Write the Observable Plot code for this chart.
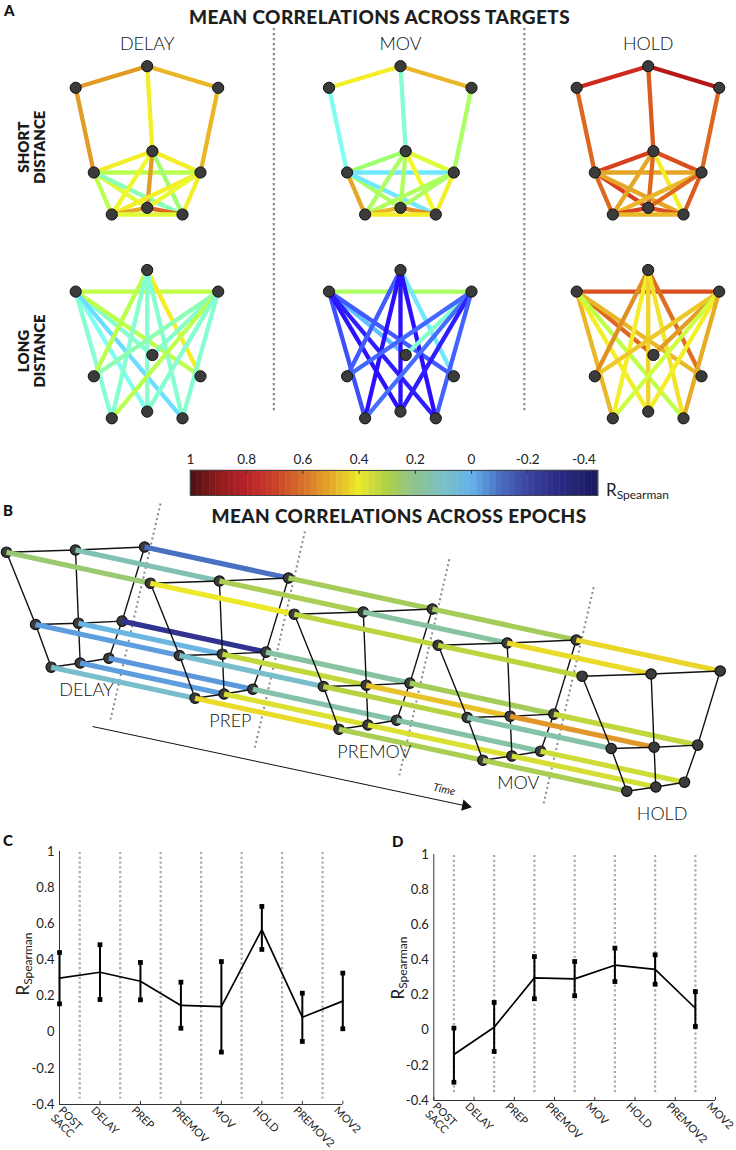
<!DOCTYPE html>
<html><head><meta charset="utf-8">
<script src="https://cdn.jsdelivr.net/npm/d3@7"></script>
<script src="https://cdn.jsdelivr.net/npm/@observablehq/plot@0.6"></script>
<style>
body{margin:0;background:#fff;font-family:Lato,"Open Sans",sans-serif;color:#222;}
#fig{position:relative;width:736px;height:1150px;overflow:hidden;}
#fig svg{overflow:visible;}
.lbl{position:absolute;white-space:nowrap;line-height:1;}
.title{font-weight:900;font-size:19px;letter-spacing:0.4px;color:#1e1e1e;transform:translateX(-50%);}
.letter{font-weight:900;font-size:15px;color:#111;}
.rs{transform:translate(-50%,-50%) rotate(-90deg);}
</style></head>
<body><div id="fig"></div>
<script>
// ---------------- DATA ----------------
// Panel A : 9 targets, correlation of each target pair
const epochsA = ["DELAY", "MOV", "HOLD"];
const distanceLabels = ["SHORT\nDISTANCE", "LONG\nDISTANCE"];
// target indices: 0 top, 1 upper-left, 2 upper-right, 3 centre, 4 mid-left, 5 mid-right, 6 bottom-centre, 7 bottom-left, 8 bottom-right
const targetLayoutX = [0, -71.5, 71, 5.2, -53.4, 53.3, 0, -35.4, 35.3];
const targetLayoutY = [0, 21.6, 21.6, 85, 106.3, 106.3, 141.6, 148.3, 148.3];
const shortPairs = [[0,1],[0,2],[0,3],[1,4],[2,5],[3,4],[3,5],[4,5],[4,7],[4,6],[4,8],[3,7],[3,6],[3,8],[5,7],[5,6],[5,8],[7,6],[6,8],[7,8]];
const longPairs = [[1,2],[1,3],[1,5],[1,7],[1,6],[1,8],[0,4],[0,5],[0,7],[0,6],[0,8],[2,3],[2,4],[2,7],[2,6],[2,8]];
const shortDELAY = [0.60,0.55,0.45,0.60,0.55,0.45,0.45,0.35,0.35,0.40,0.25,0.42,0.60,0.30,0.45,0.42,0.45,0.58,0.68,0.40];
const shortMOV   = [0.45,0.55,0.22,0.18,0.32,0.30,0.40,0.12,0.58,0.32,0.12,0.32,0.33,0.43,0.33,0.32,0.45,0.55,0.62,0.45];
const shortHOLD  = [0.80,0.88,0.70,0.68,0.68,0.75,0.72,0.58,0.68,0.75,0.58,0.58,0.68,0.45,0.55,0.68,0.70,0.75,0.72,0.55];
const longDELAY  = [0.36,0.22,0.35,0.22,0.18,0.10,0.35,0.45,0.22,0.22,0.22,0.23,0.25,0.35,0.22,0.22];
const longMOV    = [0.32,0.05,-0.08,-0.10,-0.20,-0.18,-0.08,0.12,-0.20,-0.20,-0.20,0.22,-0.06,-0.05,-0.18,-0.07];
const longHOLD   = [0.72,0.68,0.55,0.55,0.45,0.36,0.62,0.67,0.45,0.50,0.47,0.60,0.52,0.38,0.45,0.57];

// Colour bar
const colorbarTicks = [1, 0.8, 0.6, 0.4, 0.2, 0, -0.2, -0.4];
const colorbarRange = [1, -0.45];

// Panel B : 3x3 grid of targets, correlation between consecutive epochs
const epochsB = ["DELAY", "PREP", "PREMOV", "MOV", "HOLD"];
const gridLayoutX = [0, 69, 138.1, 29.1, 72, 115.6, 44.7, 73.7, 102.4];
const gridLayoutY = [0, -2.2, -5.2, 72.3, 71, 68.9, 115, 110.8, 106];
const gridEdges = [[0,1],[1,2],[3,4],[4,5],[6,7],[7,8],[0,3],[3,6],[1,4],[4,7],[2,5],[5,8]];
const transDELAY_PREP  = [0.24,0.13,-0.10,-0.03,0.02,-0.27,0.08,-0.03,-0.04];
const transPREP_PREMOV = [0.40,0.28,0.27,0.08,0.33,0.17,0.42,0.37,0.15];
const transPREMOV_MOV  = [0.32,0.17,0.27,0.31,0.46,0.27,0.28,0.37,0.16];
const transMOV_HOLD    = [0.32,0.42,0.43,0.15,0.53,0.33,0.28,0.36,0.35];

// Panels C and D
const epochLabels = ["POST\nSACC", "DELAY", "PREP", "PREMOV", "MOV", "HOLD", "PREMOV2", "MOV2"];
const yTicks = [-0.4, -0.2, 0, 0.2, 0.4, 0.6, 0.8, 1];
const cMean = [0.299, 0.332, 0.282, 0.148, 0.142, 0.568, 0.083, 0.172];
const cHigh = [0.441, 0.484, 0.386, 0.277, 0.391, 0.696, 0.216, 0.327];
const cLow  = [0.157, 0.181, 0.179, 0.022, -0.110, 0.458, -0.051, 0.019];
const dMean = [-0.138, 0.017, 0.298, 0.292, 0.370, 0.346, 0.125];
const dHigh = [0.012, 0.158, 0.419, 0.391, 0.467, 0.429, 0.220];
const dLow  = [-0.296, -0.121, 0.179, 0.196, 0.277, 0.262, 0.021];

// colour maps (value -> colour)
const brightDomain = [-0.45,-0.3,-0.2,-0.1,-0.03,0.05,0.12,0.18,0.24,0.3,0.36,0.43,0.5,0.57,0.63,0.7,0.78,0.88,1];
const brightRange = ["#00007a","#1a00e0","#2a10ff","#3c50ff","#4a78ff","#60c0ff","#70e8ff","#80fff0","#88ffc0","#a0ff70","#c0ff48","#f4f828","#f0d428","#e6ac26","#de8a22","#dc5a1e","#d42e1e","#b41818","#800000"];
const mutedDomain = [-0.45,-0.3,-0.2,-0.1,0,0.1,0.2,0.3,0.4,0.5,0.6,0.7,0.8,0.9,1];
const mutedRange = ["#1a1a5e","#2c2c88","#3a44a0","#4a70c4","#66b2ea","#7cc0c4","#8cc490","#b0d044","#ece82a","#e4a828","#d8702a","#c8402a","#b82228","#8e1a1e","#4a1012"];

// ---------------- HELPERS ----------------
const fig = document.getElementById("fig");
function put(node, left, top) { node.style.position = "absolute"; node.style.left = left + "px"; node.style.top = top + "px"; fig.appendChild(node); return node; }
function label(html, left, top, cls, css) { const d = document.createElement("div"); d.className = "lbl " + (cls || ""); d.innerHTML = html; if (css) d.style.cssText = css; return put(d, left, top); }
const fmt = d => String(+d.toFixed(1));
const FONT = "Lato, 'Open Sans', sans-serif";

// ---------------- PANEL A ----------------
const colX = [146.7, 400, 647.7];
const rowY = [65.7, 269.5];
const edgesA = [];
[[shortPairs, [shortDELAY, shortMOV, shortHOLD]], [longPairs, [longDELAY, longMOV, longHOLD]]].forEach(([pairs, sets], r) => {
  sets.forEach((vals, c) => pairs.forEach(([a, b], i) => edgesA.push({r, c, a, b, v: vals[i]})));
});
const nodesA = [];
rowY.forEach((_, r) => colX.forEach((_, c) => targetLayoutX.forEach((_, i) => nodesA.push({r, c, i}))));
const ax = (c, i) => colX[c] + targetLayoutX[i];
const ay = (r, i) => rowY[r] + targetLayoutY[i];
const sepA = [(colX[0] + colX[1]) / 2, (colX[1] + colX[2]) / 2];

const plotA = Plot.plot({
  width: 736, height: 432, margin: 0,
  x: {domain: [0, 736], range: [0, 736], axis: null},
  y: {domain: [0, 432], range: [0, 432], axis: null},
  color: {type: "linear", domain: brightDomain, range: brightRange},
  style: {fontFamily: FONT, background: "transparent"},
  marks: [
    Plot.ruleX(sepA, {x: d => d, y1: 28, y2: 412, stroke: "#8a8a8a", strokeWidth: 2.2, strokeDasharray: "2.2,2.8"}),
    Plot.link(edgesA, {x1: d => ax(d.c, d.a), y1: d => ay(d.r, d.a), x2: d => ax(d.c, d.b), y2: d => ay(d.r, d.b), stroke: "v", strokeWidth: 4.3}),
    Plot.dot(nodesA, {x: d => ax(d.c, d.i), y: d => ay(d.r, d.i), r: 5.6, fill: "#3b3b3b", stroke: "#111", strokeWidth: 1}),
    Plot.text(epochsA, {x: (d, i) => colX[i], y: rowY[0] - 22, text: d => d, fontSize: 18, fontWeight: 300, fill: "#111"}),
    Plot.text(distanceLabels, {x: 31, y: (d, i) => rowY[i] + 81, text: d => d, rotate: -90, fontSize: 15, fontWeight: 800, lineHeight: 1.1, fill: "#1a1a1a"})
  ]
});
put(plotA, 0, 0);

// ---------------- COLOUR BAR ----------------
const nBins = 64;
const bins = d3.range(nBins).map(i => {
  const a = colorbarRange[0] + (colorbarRange[1] - colorbarRange[0]) * i / nBins;
  const b = colorbarRange[0] + (colorbarRange[1] - colorbarRange[0]) * (i + 1) / nBins;
  return {a, b, m: (a + b) / 2};
});
const plotBar = Plot.plot({
  width: 736, height: 62, marginLeft: 190, marginRight: 138.5, marginTop: 30, marginBottom: 7,
  x: {domain: colorbarRange},
  y: {domain: [0, 1], axis: null},
  color: {type: "linear", domain: mutedDomain, range: mutedRange},
  style: {fontFamily: FONT, background: "transparent", color: "#222"},
  marks: [
    Plot.rect(bins, {x1: "a", x2: "b", y1: 0, y2: 1, fill: "m", stroke: "m", strokeWidth: 0.5}),
    Plot.frame({stroke: "#444", strokeWidth: 1}),
    Plot.ruleX(colorbarTicks, {x: d => d, y1: 1, y2: 0.85, stroke: "#333"}),
    Plot.axisX(colorbarTicks, {anchor: "top", tickSize: 0, tickPadding: 7, tickFormat: fmt, fontSize: 13.5, label: null})
  ]
});
put(plotBar, 0, 440);
label('<span style="font-size:17px">R</span><span style="font-size:12px;position:relative;top:3px">Spearman</span>', 606, 481, "", "color:#222");

// ---------------- PANEL B ----------------
const bBase = [6, 551.7], bStep = [143.9, 31.0];
const bx = (k, i) => bBase[0] + k * bStep[0] + gridLayoutX[i];
const by = (k, i) => bBase[1] + k * bStep[1] + gridLayoutY[i];
const transitions = [transDELAY_PREP, transPREP_PREMOV, transPREMOV_MOV, transMOV_HOLD];
const sepB = d3.range(4).map(k => ({k}));
const sx = k => 160 + k * 144.4, sy = k => 503 + k * 27.9;
const bMarks = [
  Plot.link(sepB, {x1: d => sx(d.k), y1: d => sy(d.k), x2: d => sx(d.k) - 50, y2: d => sy(d.k) + 216, stroke: "#8a8a8a", strokeWidth: 2, strokeDasharray: "2,3"}),
  Plot.link([0], {x1: 92, y1: 726, x2: 466, y2: 805.5, stroke: "#111", strokeWidth: 1}),
  Plot.dot([0], {x: 465, y: 805.3, symbol: "triangle", r: 4.2, fill: "#111", rotate: 102}),
  Plot.text(["Time"], {x: 443.7, y: 789, rotate: 12, fontSize: 11, fontStyle: "italic", fill: "#222"})
];
epochsB.forEach((name, k) => {
  const nodes = gridLayoutX.map((_, i) => i);
  bMarks.push(Plot.link(gridEdges, {x1: d => bx(k, d[0]), y1: d => by(k, d[0]), x2: d => bx(k, d[1]), y2: d => by(k, d[1]), stroke: "#111", strokeWidth: 1.4}));
  bMarks.push(Plot.dot(nodes, {x: i => bx(k, i), y: i => by(k, i), r: 5.2, fill: "#3b3b3b", stroke: "#111", strokeWidth: 1.2}));
  if (k < transitions.length) {
    const t = transitions[k].map((v, i) => ({i, v}));
    bMarks.push(Plot.link(t, {x1: d => bx(k, d.i), y1: d => by(k, d.i), x2: d => bx(k + 1, d.i), y2: d => by(k + 1, d.i), stroke: "v", strokeWidth: 5.2}));
  }
});
bMarks.push(Plot.text(epochsB, {x: (d, k) => bx(k, 0) + 80, y: (d, k) => by(k, 0) + 138, text: d => d, fontSize: 18, fontWeight: 300, fill: "#111"}));
const plotB = Plot.plot({
  width: 736, height: 340, margin: 0,
  x: {domain: [0, 736], range: [0, 736], axis: null},
  y: {domain: [496, 836], range: [0, 340], axis: null},
  color: {type: "linear", domain: mutedDomain, range: mutedRange},
  style: {fontFamily: FONT, background: "transparent"},
  marks: bMarks
});
put(plotB, 0, 496);

// ---------------- PANELS C & D ----------------
function linePanel({width, height, mL, mR, mT, mB, pos, mean, hi, lo, grid}) {
  const rows = mean.map((m, i) => ({px: pos[i], m, hi: hi[i], lo: lo[i]}));
  const ticks = d3.range(epochLabels.length);
  const tickText = {y: -0.4, text: i => epochLabels[i], rotate: 45, textAnchor: "start", lineAnchor: "top", dy: 1, fontSize: 11, lineHeight: 1.0, fill: "#222"};
  return Plot.plot({
    width, height, marginLeft: mL, marginRight: mR, marginTop: mT, marginBottom: mB,
    x: {domain: [0, 7], axis: null}, y: {domain: [-0.4, 1]},
    style: {fontFamily: FONT, background: "transparent", color: "#222"},
    marks: [
      Plot.ruleX(grid, {x: d => d, y1: 0.995, y2: -0.37, stroke: "#ababab", strokeWidth: 2.2, strokeDasharray: "2.2,2.6"}),
      Plot.ruleX([0], {y1: -0.4, y2: 1, stroke: "#333"}),
      Plot.ruleY([-0.4], {x1: 0, x2: 7, stroke: "#333"}),
      Plot.ruleX(ticks, {x: d => d, y1: -0.4, y2: -0.382, stroke: "#333"}),
      Plot.axisY({ticks: yTicks, tickFormat: fmt, tickSize: 0, tickPadding: 5, fontSize: 13, label: null}),
      Plot.text(ticks.filter(i => i === 0), {...tickText, x: d => d, dx: 4}),
      Plot.text(ticks.filter(i => i > 0), {...tickText, x: d => d, dx: -4}),
      Plot.ruleX(rows, {x: "px", y1: "lo", y2: "hi", stroke: "#000", strokeWidth: 2}),
      Plot.line(rows, {x: "px", y: "m", stroke: "#000", strokeWidth: 1.7}),
      Plot.dot(rows, {x: "px", y: "hi", symbol: "square", fill: "#000", r: 2.7}),
      Plot.dot(rows, {x: "px", y: "lo", symbol: "square", fill: "#000", r: 2.7})
    ]
  });
}
const plotC = linePanel({width: 370, height: 312, mL: 59, mR: 27.7, mT: 13, mB: 46,
  pos: d3.range(cMean.length), mean: cMean, hi: cHigh, lo: cLow, grid: d3.range(7).map(i => i + 0.5)});
put(plotC, 0, 838);
const plotD = linePanel({width: 366, height: 312, mL: 63.3, mR: 21, mT: 16, mB: 50,
  pos: d3.range(dMean.length).map(i => i + 0.5), mean: dMean, hi: dHigh, lo: dLow, grid: d3.range(7).map(i => i + 0.5)});
put(plotD, 370, 838);

const rsHTML = '<span style="font-size:17px">R</span><span style="font-size:12px;position:relative;top:3px">Spearman</span>';
label(rsHTML, 22, 964, "rs");
label(rsHTML, 397, 968, "rs");

// ---------------- TITLES ----------------
label("A", 4, 3, "letter");
label("MEAN CORRELATIONS ACROSS TARGETS", 379.5, 7, "title");
label("B", 3, 503, "letter");
label("MEAN CORRELATIONS ACROSS EPOCHS", 399, 506, "title");
label("C", 3, 833, "letter");
label("D", 392, 834, "letter");
</script>
</body></html>
